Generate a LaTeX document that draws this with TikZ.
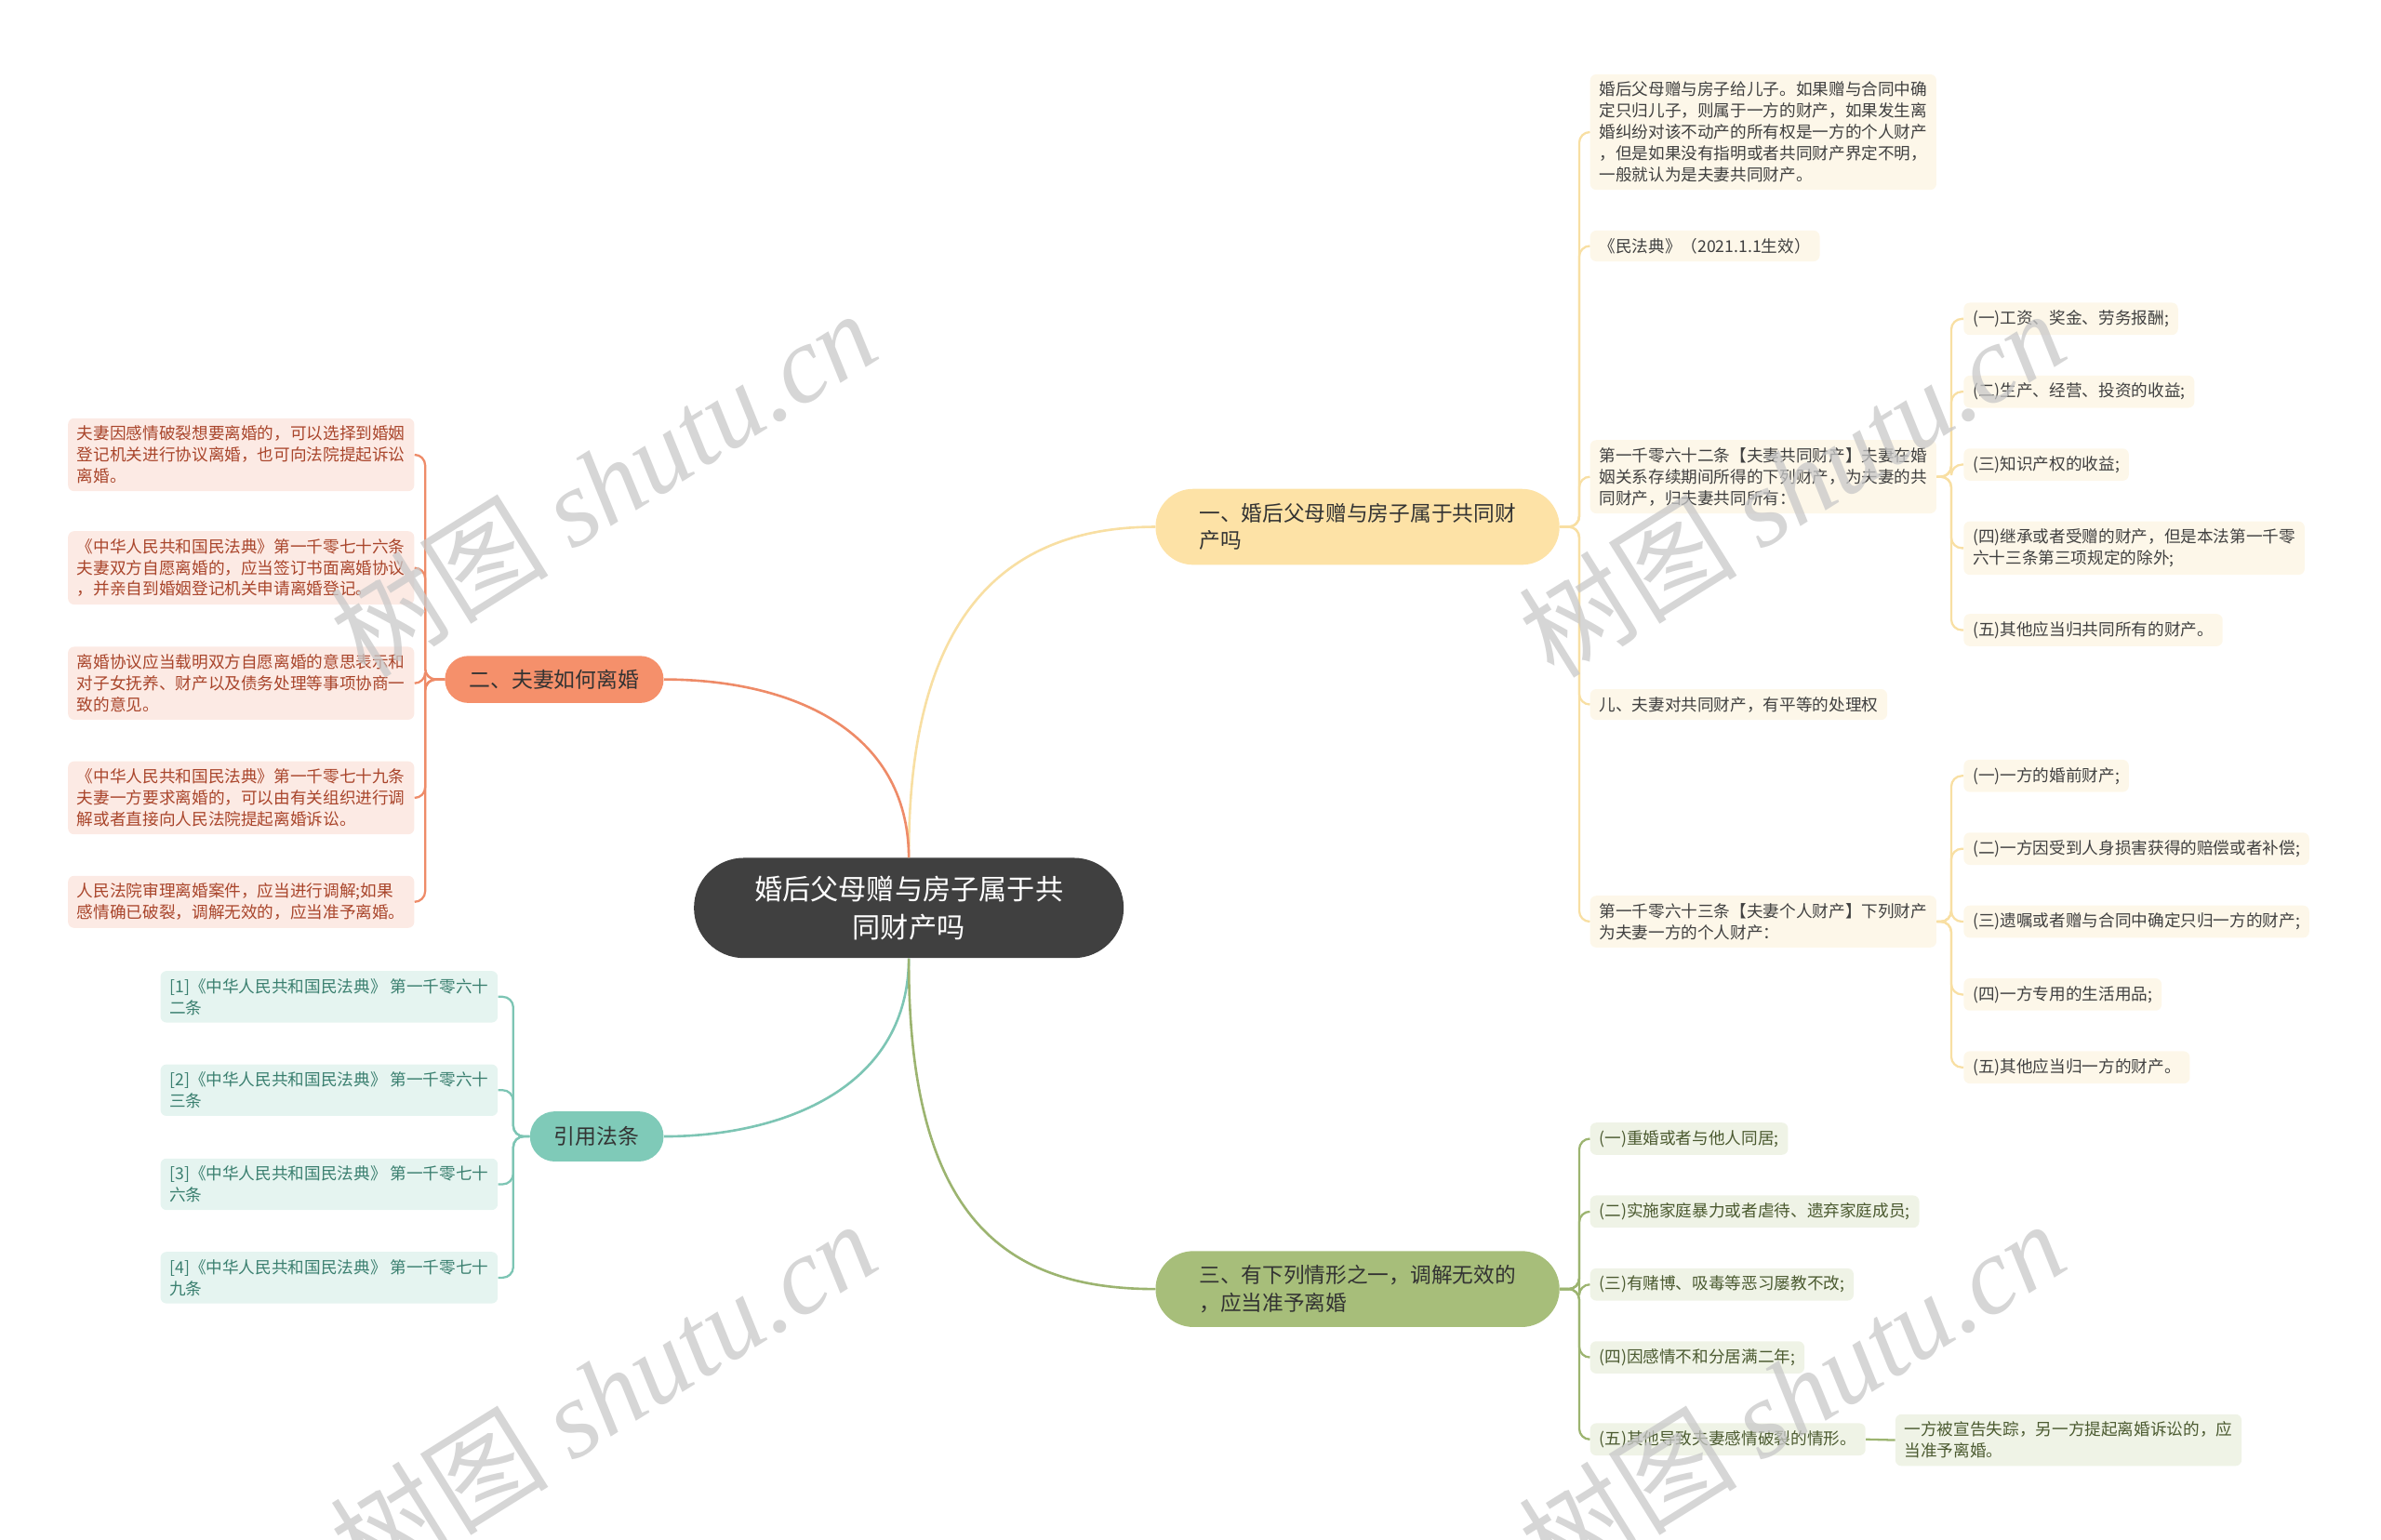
\documentclass[tikz,border=0pt]{standalone}
\usepackage{fontspec}
\setmainfont{Noto Sans CJK SC}
\newfontfamily\wmserif{Liberation Serif}
\usetikzlibrary{calc}
\definecolor{cdark}{HTML}{404040}
\definecolor{yfill}{HTML}{FDE2A6}
\definecolor{yline}{HTML}{F8DFA3}
\definecolor{yleaf}{HTML}{FDF7E9}
\definecolor{sfill}{HTML}{F5906B}
\definecolor{sline}{HTML}{EE8B68}
\definecolor{sleaf}{HTML}{FCEAE4}
\definecolor{stext}{HTML}{A9452B}
\definecolor{tfill}{HTML}{7FCAB8}
\definecolor{tline}{HTML}{7DC5B4}
\definecolor{tleaf}{HTML}{E5F4F0}
\definecolor{ttext}{HTML}{3A7F6F}
\definecolor{gfill}{HTML}{A7BE7A}
\definecolor{gline}{HTML}{9CB470}
\definecolor{gleaf}{HTML}{EFF3E6}
\definecolor{gtext}{HTML}{4B5A30}
\definecolor{wmgray}{HTML}{C8C8C8}
\begin{document}
\begin{tikzpicture}[x=1pt,y=-1pt,
  centernode/.style={fill=cdark,text=white,minimum width=283pt,minimum height=66pt,rounded corners=32.9pt,align=center,font=\fontsize{18.5pt}{25pt}\selectfont,inner sep=0pt},
  branchnode/.style={fill=#1,text=black!80,rounded corners=24.9pt,minimum width=266pt,minimum height=50pt,align=left,font=\fontsize{13.9pt}{18pt}\selectfont,inner sep=0pt},
  smallbranch/.style={fill=#1,text=black!80,align=center,font=\fontsize{14pt}{18pt}\selectfont,inner sep=0pt},
  leaf/.style={fill=#1,rounded corners=4pt,inner xsep=6pt,inner ysep=5pt,align=left,font=\fontsize{10.8pt}{14pt}\selectfont},
  yleafn/.style={leaf=yleaf,text=black!75},
  sleafn/.style={leaf=sleaf,text=stext},
  tleafn/.style={leaf=tleaf,text=ttext},
  gleafn/.style={leaf=gleaf,text=gtext},
  mainlink/.style={draw=#1,line width=1.6pt},
  sublink/.style={draw=#1,line width=1.4pt,rounded corners=7pt},
  watermark/.style={text=wmgray,opacity=0.75,rotate=32,font=\fontsize{72pt}{80pt}\selectfont}
]
\useasboundingbox (0,0) rectangle (1568,1014);

% center and branches
\node[centernode] (c) at (598.5,598) {婚后父母赠与房子属于共\\同财产吗};
\node[branchnode=yfill] (b1) at (894,347) {一、婚后父母赠与房子属于共同财\\产吗};
\node[smallbranch=sfill,minimum width=144pt,minimum height=31pt,rounded corners=15.4pt] (b2) at (365,447.5) {二、夫妻如何离婚};
\node[smallbranch=tfill,minimum width=88pt,minimum height=33pt,rounded corners=16.4pt] (b3) at (393,748.5) {引用法条};
\node[branchnode=gfill] (b4) at (894,849) {三、有下列情形之一，调解无效的\\，应当准予离婚};

\draw[mainlink=yline] (c.north) .. controls (598,420) and (650,347) .. (b1.west);
\draw[mainlink=sline] (c.north) .. controls (598,480) and (520,447.5) .. (b2.east);
\draw[mainlink=tline] (c.south) .. controls (598,720) and (510,748.5) .. (b3.east);
\draw[mainlink=gline] (c.south) .. controls (598,800) and (660,849) .. (b4.west);

% branch 1 leaves
\node[yleafn,anchor=west] (y1) at (1047,87) {婚后父母赠与房子给儿子。如果赠与合同中确\\定只归儿子，则属于一方的财产，如果发生离\\婚纠纷对该不动产的所有权是一方的个人财产\\，但是如果没有指明或者共同财产界定不明，\\一般就认为是夫妻共同财产。};
\node[yleafn,anchor=west] (y2) at (1047,162) {《民法典》（2021.1.1生效）};
\node[yleafn,anchor=west] (y3) at (1047,314) {第一千零六十二条【夫妻共同财产】夫妻在婚\\姻关系存续期间所得的下列财产，为夫妻的共\\同财产，归夫妻共同所有：};
\node[yleafn,anchor=west] (y4) at (1047,464) {儿、夫妻对共同财产，有平等的处理权};
\node[yleafn,anchor=west] (y5) at (1047,607) {第一千零六十三条【夫妻个人财产】下列财产\\为夫妻一方的个人财产：};

\node[yleafn,anchor=west] (y31) at (1293,210) {(一)工资、奖金、劳务报酬;};
\node[yleafn,anchor=west] (y32) at (1293,258) {(二)生产、经营、投资的收益;};
\node[yleafn,anchor=west] (y33) at (1293,306) {(三)知识产权的收益;};
\node[yleafn,anchor=west] (y34) at (1293,361) {(四)继承或者受赠的财产，但是本法第一千零\\六十三条第三项规定的除外;};
\node[yleafn,anchor=west] (y35) at (1293,415) {(五)其他应当归共同所有的财产。};

\node[yleafn,anchor=west] (y51) at (1293,511) {(一)一方的婚前财产;};
\node[yleafn,anchor=west] (y52) at (1293,559) {(二)一方因受到人身损害获得的赔偿或者补偿;};
\node[yleafn,anchor=west] (y53) at (1293,607) {(三)遗嘱或者赠与合同中确定只归一方的财产;};
\node[yleafn,anchor=west] (y54) at (1293,655) {(四)一方专用的生活用品;};
\node[yleafn,anchor=west] (y55) at (1293,703) {(五)其他应当归一方的财产。};

\coordinate (ys) at (1040,347);
\foreach \n in {y1,y2,y3,y4,y5} \draw[sublink=yline] (b1.east) -- (ys) |- (\n.west);
\coordinate (y3s) at (1285,314);
\foreach \n in {y31,y32,y33,y34,y35} \draw[sublink=yline] (y3.east) -- (y3s) |- (\n.west);
\coordinate (y5s) at (1285,607);
\foreach \n in {y51,y52,y53,y54,y55} \draw[sublink=yline] (y5.east) -- (y5s) |- (\n.west);

% branch 2 leaves
\node[sleafn,anchor=east] (s1) at (273,299.5) {夫妻因感情破裂想要离婚的，可以选择到婚姻\\登记机关进行协议离婚，也可向法院提起诉讼\\离婚。};
\node[sleafn,anchor=east] (s2) at (273,374) {《中华人民共和国民法典》第一千零七十六条\\夫妻双方自愿离婚的，应当签订书面离婚协议\\，并亲自到婚姻登记机关申请离婚登记。};
\node[sleafn,anchor=east] (s3) at (273,450) {离婚协议应当载明双方自愿离婚的意思表示和\\对子女抚养、财产以及债务处理等事项协商一\\致的意见。};
\node[sleafn,anchor=east] (s4) at (273,525.5) {《中华人民共和国民法典》第一千零七十九条\\夫妻一方要求离婚的，可以由有关组织进行调\\解或者直接向人民法院提起离婚诉讼。};
\node[sleafn,anchor=east] (s5) at (273,594) {人民法院审理离婚案件，应当进行调解;如果\\感情确已破裂，调解无效的，应当准予离婚。};
\coordinate (ss) at (280,447.5);
\foreach \n in {s1,s2,s3,s4,s5} \draw[sublink=sline] (b2.west) -- (ss) |- (\n.east);

% branch 3 leaves
\node[tleafn,anchor=east] (t1) at (328,656.5) {[1]《中华人民共和国民法典》 第一千零六十\\二条};
\node[tleafn,anchor=east] (t2) at (328,718) {[2]《中华人民共和国民法典》 第一千零六十\\三条};
\node[tleafn,anchor=east] (t3) at (328,780) {[3]《中华人民共和国民法典》 第一千零七十\\六条};
\node[tleafn,anchor=east] (t4) at (328,841.5) {[4]《中华人民共和国民法典》 第一千零七十\\九条};
\coordinate (ts) at (338,748.5);
\foreach \n in {t1,t2,t3,t4} \draw[sublink=tline] (b3.west) -- (ts) |- (\n.east);

% branch 4 leaves
\node[gleafn,anchor=west] (g1) at (1047,750) {(一)重婚或者与他人同居;};
\node[gleafn,anchor=west] (g2) at (1047,798) {(二)实施家庭暴力或者虐待、遗弃家庭成员;};
\node[gleafn,anchor=west] (g3) at (1047,846) {(三)有赌博、吸毒等恶习屡教不改;};
\node[gleafn,anchor=west] (g4) at (1047,894) {(四)因感情不和分居满二年;};
\node[gleafn,anchor=west] (g5) at (1047,948) {(五)其他导致夫妻感情破裂的情形。};
\node[gleafn,anchor=west] (g51) at (1248,948.5) {一方被宣告失踪，另一方提起离婚诉讼的，应\\当准予离婚。};
\coordinate (gs) at (1040,849);
\foreach \n in {g1,g2,g3,g4,g5} \draw[sublink=gline] (b4.east) -- (gs) |- (\n.west);
\draw[sublink=gline] (g5.east) -- (g51.west);

% watermarks
\node[watermark] (w1) at (397,318) {树图 {\wmserif\itshape shutu.cn}};
\node[watermark] (w2) at (1180,318) {树图 {\wmserif\itshape shutu.cn}};
\node[watermark] (w3) at (397,918) {树图 {\wmserif\itshape shutu.cn}};
\node[watermark] (w4) at (1180,918) {树图 {\wmserif\itshape shutu.cn}};
\end{tikzpicture}
\end{document}
